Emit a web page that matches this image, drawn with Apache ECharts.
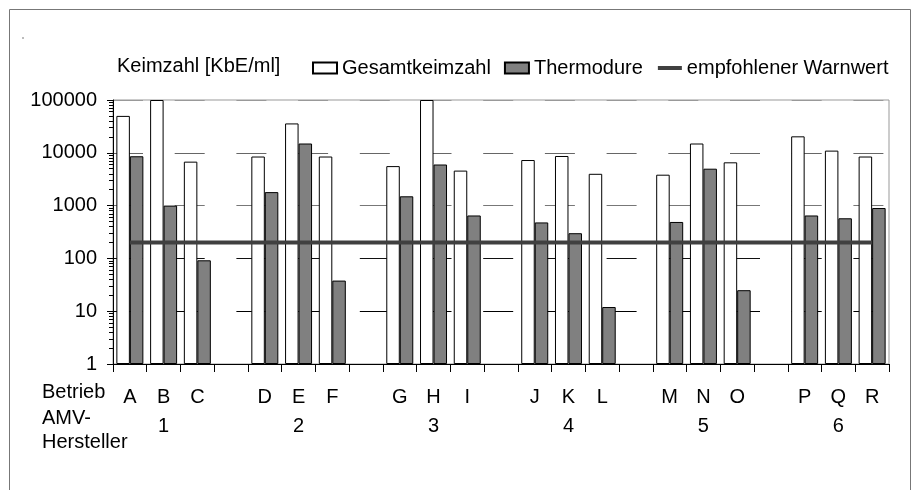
<!DOCTYPE html>
<html>
<head>
<meta charset="utf-8">
<script src="https://cdn.jsdelivr.net/npm/echarts@6/dist/echarts.min.js"></script>
<style>
  html, body { margin: 0; padding: 0; background: #fff; }
  #chart { width: 918px; height: 490px; }
</style>
</head>
<body>
<div id="chart"></div>
<script>
// Daten aus der Vorlage (Keimzahl je Betrieb, log. Skala)
var betriebe = ['A','B','C','D','E','F','G','H','I','J','K','L','M','N','O','P','Q','R'];
var hersteller = ['1','2','3','4','5','6'];
var gesamtkeimzahl = [50000, 100000, 6800, 8500, 36000, 8500, 5600, 100000, 4600, 7300, 8700, 4000, 3850, 15000, 6600, 20500, 11000, 8500];
var thermodure = [8600, 1000, 92, 1800, 15000, 38, 1500, 6000, 650, 480, 300, 12, 490, 5000, 25, 650, 575, 900];
var warnwert = 200;
var yTicks = [1, 10, 100, 1000, 10000, 100000];

(function () {
  var chart = echarts.init(document.getElementById('chart'));
  var font = "'Liberation Sans', Arial, sans-serif";
  var fs = 20;

  // 3 Betriebe je Hersteller, dazwischen je eine leere Kategorie
  var cats = [], labels = [], sGes = [], sTher = [], sWarn = [];
  betriebe.forEach(function (b, i) {
    if (i > 0 && i % 3 === 0) {
      cats.push(' ' + i); labels.push('');
      sGes.push('-'); sTher.push('-'); sWarn.push(warnwert);
    }
    cats.push(b);
    labels.push(b + '\n' + (i % 3 === 1 ? hersteller[Math.floor(i / 3)] : ''));
    sGes.push(gesamtkeimzahl[i]); sTher.push(thermodure[i]); sWarn.push(warnwert);
  });

  var minorTicks = [];
  for (var d = 1; d < 100000; d *= 10) {
    for (var k = 2; k <= 9; k++) minorTicks.push(k * d);
  }

  var option = {
    animation: false,
    textStyle: { fontFamily: font },
    grid: {
      left: 113, right: 29, top: 100, bottom: 126,
      show: true, borderColor: '#999', borderWidth: 1
    },
    legend: {
      left: 307, top: 53,
      itemWidth: 24, itemHeight: 11, itemGap: 13,
      textStyle: { fontSize: fs, color: '#000', fontFamily: font },
      data: [
        { name: 'Gesamtkeimzahl', icon: 'rect' },
        { name: 'Thermodure', icon: 'rect' },
        { name: 'empfohlener Warnwert', itemStyle: { opacity: 0 }, lineStyle: { width: 4, color: '#404040' } }
      ]
    },
    graphic: [
      { type: 'polyline', shape: { points: [[9.5, 490], [9.5, 9.5], [910.5, 9.5], [910.5, 490]] },
        style: { stroke: '#777', lineWidth: 1, fill: null } },
      { type: 'circle', shape: { cx: 23, cy: 38, r: 0.8 }, style: { fill: '#666' } },
      { type: 'text', left: 42, top: 382, style: { text: 'Betrieb', font: fs + 'px ' + font, fill: '#000' } },
      { type: 'text', left: 42, top: 408, style: { text: 'AMV-', font: fs + 'px ' + font, fill: '#000' } },
      { type: 'text', left: 42, top: 432, style: { text: 'Hersteller', font: fs + 'px ' + font, fill: '#000' } }
    ],
    xAxis: {
      type: 'category',
      data: cats,
      axisLine: { lineStyle: { color: '#000', width: 1 } },
      axisTick: { show: true, interval: 0, length: 8, lineStyle: { color: '#000' } },
      axisLabel: {
        interval: 0, margin: 19, fontSize: fs, lineHeight: 29, color: '#000',
        formatter: function (v, idx) { return labels[idx]; }
      },
      splitLine: { show: false }
    },
    yAxis: [{
      type: 'log',
      logBase: 10,
      min: 1,
      max: 100000,
      splitNumber: 5,
      name: 'Keimzahl [KbE/ml]',
      nameLocation: 'end',
      nameGap: 24,
      nameTextStyle: { fontSize: fs, color: '#000', align: 'left', padding: [0, 0, 0, 4] },
      axisLine: { show: true, lineStyle: { color: '#000', width: 1 } },
      axisTick: { show: true, length: 6, lineStyle: { color: '#000' } },
      axisLabel: {
        fontSize: fs, color: '#000', margin: 16,
        formatter: function (v) { return String(Math.round(v)); }
      },
      splitLine: {
        show: true,
        lineStyle: { color: ['#000', '#000', '#111', '#777', '#666', '#999'], type: [30, 31.7], width: 1 }
      }
    }, {
      type: 'log',
      logBase: 10,
      min: 1,
      max: 100000,
      position: 'left',
      axisLine: { show: false },
      axisLabel: { show: false },
      splitLine: { show: false },
      axisTick: { show: true, length: 4, customValues: minorTicks, lineStyle: { color: '#000' } }
    }],
    series: [
      {
        name: 'Gesamtkeimzahl', type: 'bar', data: sGes,
        barGap: '0%', barCategoryGap: '20%',
        itemStyle: { color: '#fff', borderColor: '#000', borderWidth: 1 }
      },
      {
        name: 'Thermodure', type: 'bar', data: sTher,
        itemStyle: { color: '#808080', borderColor: '#000', borderWidth: 1 }
      },
      {
        name: 'empfohlener Warnwert', type: 'line', data: sWarn,
        symbol: 'none', z: 5,
        lineStyle: { color: '#404040', width: 4 },
        itemStyle: { color: '#404040' }
      }
    ]
  };
  chart.setOption(option);
})();
</script>
</body>
</html>
